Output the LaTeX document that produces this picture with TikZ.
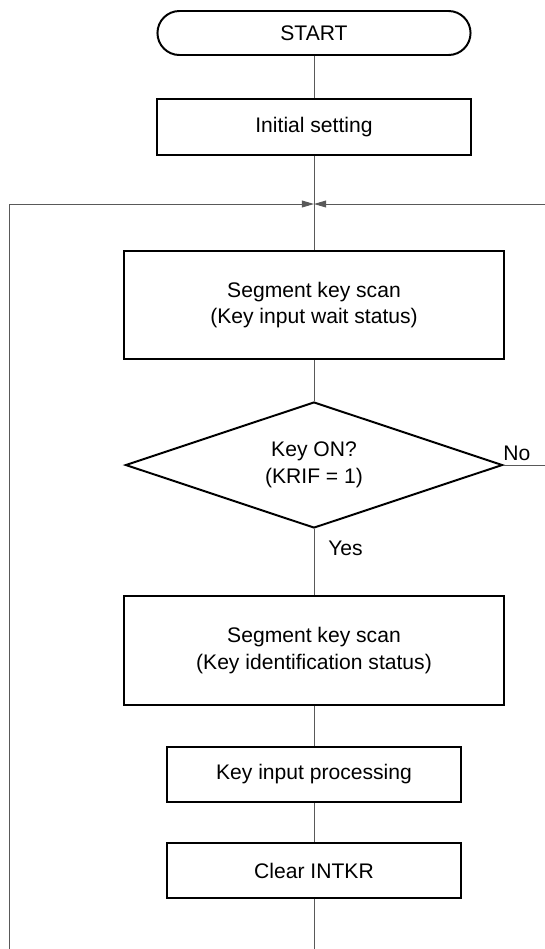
\documentclass[tikz,border=0pt]{standalone}
\usepackage{fontspec}
\setmainfont{Liberation Sans}
\usetikzlibrary{shapes.geometric,arrows.meta}
\begin{document}
\begin{tikzpicture}[x=0.025cm, y=-0.025cm, font=\fontsize{15}{19}\selectfont]
    \tikzstyle{terminal} = [rectangle, rounded corners=0.55cm, draw, line width=1.4pt, minimum width=7.825cm, minimum height=1.1cm]
    \tikzstyle{process} = [rectangle, draw, line width=1.4pt, align=center, inner sep=0pt]
    \tikzstyle{decision} = [diamond, draw, line width=1.4pt, align=center, aspect=3, minimum width=9.425cm, minimum height=3.15cm, inner sep=0pt]
    \tikzstyle{line} = [draw=black!65, line width=0.7pt]
    \tikzstyle{loop} = [line, -{Triangle[length=3mm,width=1.7mm]}]

    \useasboundingbox (0,0) rectangle (545,949);

    \node [terminal] (start) at (314,33) {START};
    \node [process, minimum width=7.825cm, minimum height=1.4cm] (init) at (314,127) {Initial setting};
    \coordinate (junction) at (314,204);
    \node [process, minimum width=9.475cm, minimum height=2.7cm] (scanwait) at (314,305) {Segment key scan\\(Key input wait status)};
    \node [decision] (keyon) at (314,465) {Key ON?\\(KRIF = 1)};
    \node [process, minimum width=9.475cm, minimum height=2.725cm] (scanid) at (314,650.5) {Segment key scan\\(Key identification status)};
    \node [process, minimum width=7.35cm, minimum height=1.375cm] (keyproc) at (314,774.5) {Key input processing};
    \node [process, minimum width=7.35cm, minimum height=1.375cm] (clear) at (314,870.5) {Clear INTKR};

    \node [anchor=base west, inner sep=0pt] (nolabel) at (503,460) {No};
    \node [anchor=base west, inner sep=0pt] (yeslabel) at (328,555) {Yes};

    \coordinate (noexit) at (545,465);
    \coordinate (noentry) at (545,204);
    \coordinate (loopend) at (314,949);
    \coordinate (loopback) at (9,949);

    \draw [line] (start) -- (init);
    \draw [line] (init) -- (junction);
    \draw [line] (junction) -- (scanwait);
    \draw [line] (scanwait) -- (keyon);
    \draw [line] (keyon) -- (scanid);
    \draw [line] (scanid) -- (keyproc);
    \draw [line] (keyproc) -- (clear);
    \draw [line] (clear) -- (loopend);
    \draw [line] (keyon.east) -- (noexit);
    \draw [loop] (noentry) -- (junction);
    \draw [loop] (loopback) |- (junction);
\end{tikzpicture}
\end{document}
